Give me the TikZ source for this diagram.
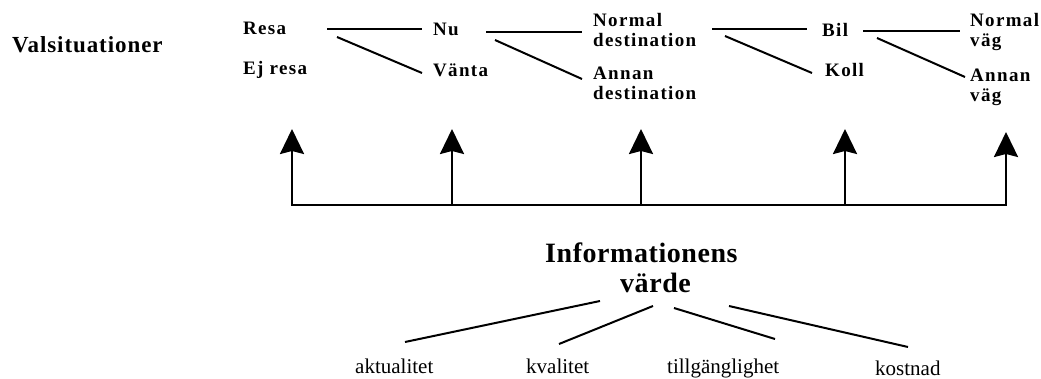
\documentclass[tikz,border=0pt]{standalone}
\usepackage{fontspec}
\setmainfont{Liberation Serif}
\usetikzlibrary{arrows.meta}
\tikzset{
	choice/.style={inner sep=0pt, anchor=base west, align=left,
			font=\fontsize{19}{20}\selectfont\bfseries\addfontfeature{LetterSpace=7}},
	factor/.style={inner sep=0pt, anchor=base west,
			font=\fontsize{21}{24}\selectfont},
	link/.style={line width=2pt},
	lift/.style={line width=2.4pt, -{Stealth[length=25pt,width=24pt,inset=3pt]}}
}

\begin{document}
\begin{tikzpicture}[x=1pt,y=-1pt]
	\useasboundingbox (0,0) rectangle (1041,379);
	%--- Valsituationer ---
	% (two-line nodes sit on the baseline of their last line)
	\node[choice, font=\fontsize{23}{26}\selectfont\bfseries\addfontfeature{LetterSpace=4}] (vals) at (12,53) {Valsituationer};
	\node[choice] (resa) at (243,35) {Resa};
	\node[choice] (ejresa) at (243,75) {Ej resa};
	\node[choice] (nu) at (433,36) {Nu};
	\node[choice] (vanta) at (433,77) {Vänta};
	\node[choice] (normdest) at (593,47) {Normal\\destination};
	\node[choice] (annandest) at (593,100) {Annan\\destination};
	\node[choice] (bil) at (822,37) {Bil};
	\node[choice] (koll) at (825,77) {Koll};
	\node[choice] (normvag) at (970,47) {Normal\\väg};
	\node[choice] (annanvag) at (970,102) {Annan\\väg};

	% links between the choices
	\draw[link] ([shift={(84,-6)}]resa.base west) -- ([shift={(-11,-7)}]nu.base west);
	\draw[link] ([shift={(94,2)}]resa.base west) -- ([shift={(-11,-4)}]vanta.base west);
	\draw[link] ([shift={(53,-4)}]nu.base west) -- ([shift={(-11,-15)}]normdest.base west);
	\draw[link] ([shift={(62,4)}]nu.base west) -- ([shift={(-11,-21)}]annandest.base west);
	\draw[link] ([shift={(119,-18)}]normdest.base west) -- ([shift={(-15,-8)}]bil.base west);
	\draw[link] ([shift={(132,-11)}]normdest.base west) -- ([shift={(-13,-4)}]koll.base west);
	\draw[link] ([shift={(41,-6)}]bil.base west) -- ([shift={(-10,-16)}]normvag.base west);
	\draw[link] ([shift={(55,1)}]bil.base west) -- ([shift={(-5,-25)}]annanvag.base west);

	%--- Arrows up to the choices ---
	\draw[line width=2.4pt, line cap=rect] (292,205) -- (1006,205);
	\foreach \x/\tip in {292/129, 452/129, 641/129, 845/129, 1006/132}
		\draw[lift] (\x,205) -- (\x,\tip);

	%--- Informationens värde ---
	\node[choice, font=\fontsize{28}{30}\selectfont\bfseries\addfontfeature{LetterSpace=2}] (info) at (545,292) {Informationens\\\hspace*{75pt}värde};
	\node[factor] (akt) at (355,373) {aktualitet};
	\node[factor] (kval) at (526,373) {kvalitet};
	\node[factor] (till) at (667,373) {tillgänglighet};
	\node[factor] (kost) at (875,375) {kostnad};

	% links down to the factors
	\draw[link] ([shift={(55,9)}]info.base west) -- ([shift={(50,-31)}]akt.base west);
	\draw[link] ([shift={(108,14)}]info.base west) -- ([shift={(33,-29)}]kval.base west);
	\draw[link] ([shift={(129,16)}]info.base west) -- ([shift={(108,-34)}]till.base west);
	\draw[link] ([shift={(184,14)}]info.base west) -- ([shift={(33,-28)}]kost.base west);
\end{tikzpicture}
\end{document}
